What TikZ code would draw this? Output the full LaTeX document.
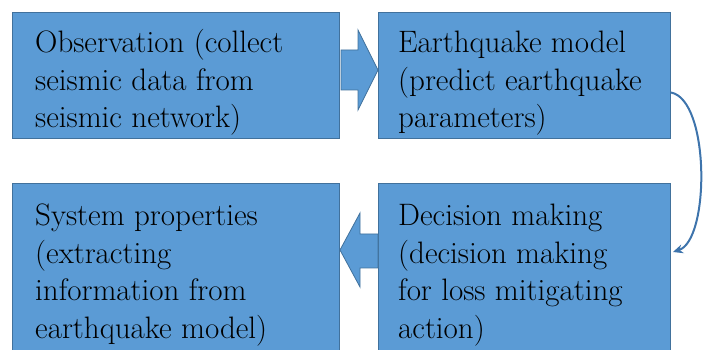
\documentclass[tikz,border=0pt]{standalone}
\usepackage{fontspec}
\usetikzlibrary{arrows.meta}
\definecolor{boxfill}{HTML}{5B9BD5}
\definecolor{boxline}{HTML}{41719C}
\definecolor{curvecol}{HTML}{3E74AC}
\begin{document}
\begin{tikzpicture}[x=1pt,y=-1pt,
  box/.style={draw=boxline, line width=1pt, fill=boxfill, anchor=north west, inner sep=0pt},
  boxtext/.style={anchor=base west, align=left, inner sep=0pt, font=\fontsize{31}{37.5}\selectfont},
  blockarrow/.style={fill=boxfill, draw=boxline, line width=0.8pt, line join=miter},
  curve/.style={draw=curvecol, line width=2pt, -{Stealth[length=10pt,width=9pt]}}]
\useasboundingbox (0,0) rectangle (705,350);
% boxes
\node[box, minimum width=327pt, minimum height=126pt] (obs) at (12,12) {};
\node[box, minimum width=292pt, minimum height=126pt] (eq) at (378,12) {};
\node[box, minimum width=327pt, minimum height=172pt] (sys) at (12,183) {};
\node[box, minimum width=292pt, minimum height=172pt] (dec) at (378,183) {};
% texts (anchored at the baseline of their last line)
\node[boxtext] (tobs) at (35,128) {Observation (collect\\seismic data from\\seismic network)};
\node[boxtext] (teq) at (398,128) {Earthquake model\\(predict earthquake\\parameters)};
\node[boxtext] (tsys) at (35,338) {System properties\\(extracting\\information from\\earthquake model)};
\node[boxtext] (tdec) at (398,338) {Decision making\\(decision making\\for loss mitigating\\action)};
% block arrows
\draw[blockarrow] ([xshift=1pt]obs.east |- 0,50) -- (358,50) -- (358,30) -- (eq.west |- 0,70)
  -- (358,110) -- (358,90) -- ([xshift=1pt]obs.east |- 0,90) -- cycle;
\draw[blockarrow] (dec.west |- 0,234) -- (360,234) -- (360,213) -- (sys.east |- 0,250)
  -- (360,287) -- (360,268) -- (dec.west |- 0,268) -- cycle;
% curved connector
\draw[curve] ([yshift=-17pt]eq.east) .. controls (710,100) and (710,240) .. ([xshift=2pt,yshift=17.5pt]dec.east);
\end{tikzpicture}
\end{document}
